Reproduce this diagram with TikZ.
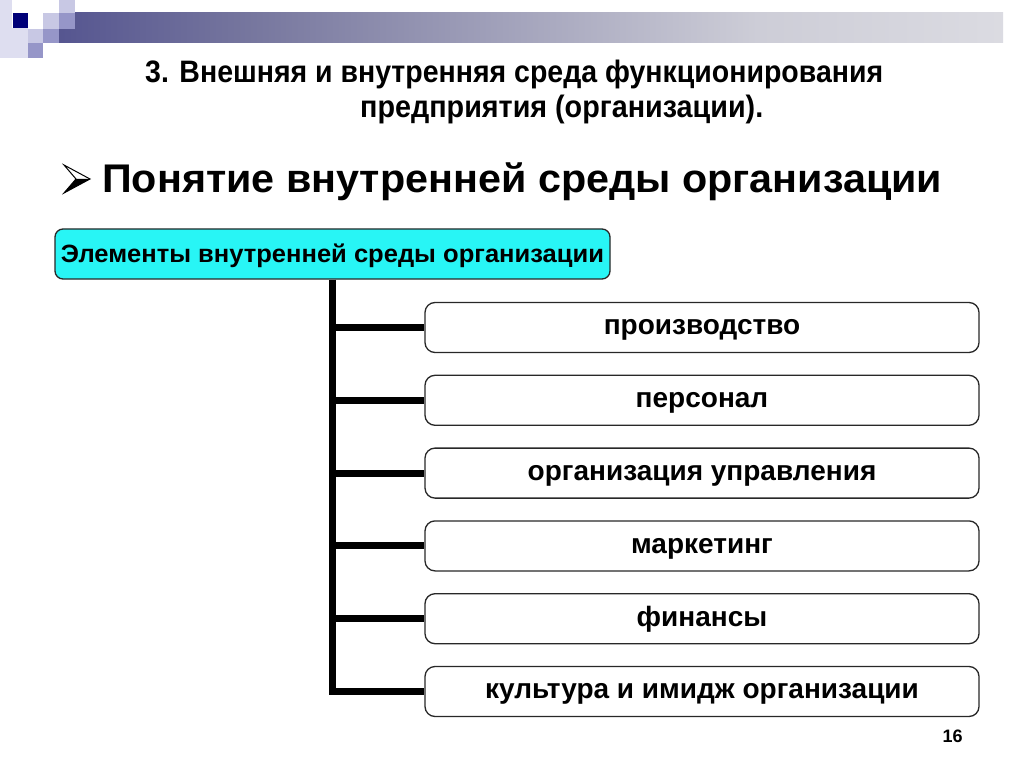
\documentclass[tikz,border=0pt]{standalone}
\usepackage{fontspec}
\setmainfont{Liberation Sans}
\usepackage{graphicx}
\definecolor{barA}{RGB}{24,24,118}
\definecolor{barB}{RGB}{118,118,158}
\definecolor{barC}{RGB}{205,205,215}
\definecolor{barD}{RGB}{246,246,246}
\definecolor{sqdark}{RGB}{0,0,120}
\definecolor{sqpale}{RGB}{222,222,240}
\definecolor{sqlight}{RGB}{200,200,228}
\definecolor{sqmid}{RGB}{150,150,200}
\definecolor{hdrcyan}{RGB}{40,245,245}
\definecolor{boxline}{RGB}{40,40,40}
\pgfdeclarehorizontalshading{barshade}{100bp}{color(0bp)=(barA); color(6bp)=(barA); color(35bp)=(barB); color(62bp)=(barC); color(100bp)=(barD)}
\newcommand\fitw[2]{\resizebox{#1pt}{\height}{#2}}
\begin{document}
\begin{tikzpicture}[x=1pt,y=-1pt,
  itembox/.style={draw=boxline,line width=1.3pt,rounded corners=10pt,fill=white,
    minimum width=554pt,minimum height=50pt,inner sep=0pt,
    font=\bfseries\fontsize{28}{32}\selectfont,text height=14.6pt,text depth=0pt},
  hdrbox/.style={draw=boxline,line width=1.3pt,rounded corners=8pt,fill=hdrcyan,
    minimum width=555pt,minimum height=50pt,inner sep=0pt,
    font=\bfseries\fontsize{25}{30}\selectfont,text height=17.9pt,text depth=0pt},
  tree/.style={line width=7pt,black},
  titletext/.style={anchor=base west,inner sep=0pt,font=\bfseries\fontsize{31}{35}\selectfont}
]
\useasboundingbox (0,0) rectangle (1024,767);
\fill[white] (0,0) rectangle (1024,767);
% top decoration
\fill[shading=barshade] (59,13) rectangle (1003,43);
\fill[sqpale] (0,0) rectangle (12,58);
\fill[sqpale] (12,28) rectangle (28,58);
\fill[sqdark] (13,13) rectangle (28,28);
\fill[sqlight] (28,29) rectangle (43,43);
\fill[sqmid] (28,43) rectangle (43,58);
\fill[sqlight] (43,13) rectangle (59,29);
\fill[sqmid] (43,29) rectangle (59,43);
\fill[sqlight] (59,0) rectangle (75,13);
\fill[sqmid] (59,13) rectangle (75,29);
% title
\node[titletext] (t1) at (145,83) {\fitw{738}{3. Внешняя и внутренняя среда функционирования}};
\node[titletext] (t2) at (360,118) {\fitw{403}{предприятия (организации).}};
% bullet
\fill[black] (76,179) -- (90,179) -- (64,193) -- cycle;
\draw[black,line width=1pt,line join=miter] (64,165) -- (90,179) -- (64,193) -- (76,179) -- cycle;
\node[anchor=base west,inner sep=0pt,font=\bfseries\fontsize{40}{46}\selectfont] (head) at (102,193) {\fitw{840}{Понятие внутренней среды организации}};
% header box
\node[hdrbox] (hdr) at (332.5,254) {\fitw{543}{Элементы внутренней среды организации}};
% item boxes
\node[itembox] (b1) at (702,327.5) {производство};
\node[itembox] (b2) at (702,400.3) {персонал};
\node[itembox] (b3) at (702,473.1) {организация управления};
\node[itembox] (b4) at (702,545.9) {маркетинг};
\node[itembox] (b5) at (702,618.7) {финансы};
\node[itembox] (b6) at (702,691.5) {культура и имидж организации};
% connectors
\draw[tree,line join=miter] (hdr.south) |- (b6.west);
\foreach \b in {b1,b2,b3,b4,b5}{
  \draw[tree] (hdr.south |- \b.west) ++(-3.5,0) -- (\b.west);
}
% page number
\node[inner sep=0pt,font=\bfseries\fontsize{18}{20}\selectfont] (pg) at (952.5,736.5) {16};
\end{tikzpicture}
\end{document}
